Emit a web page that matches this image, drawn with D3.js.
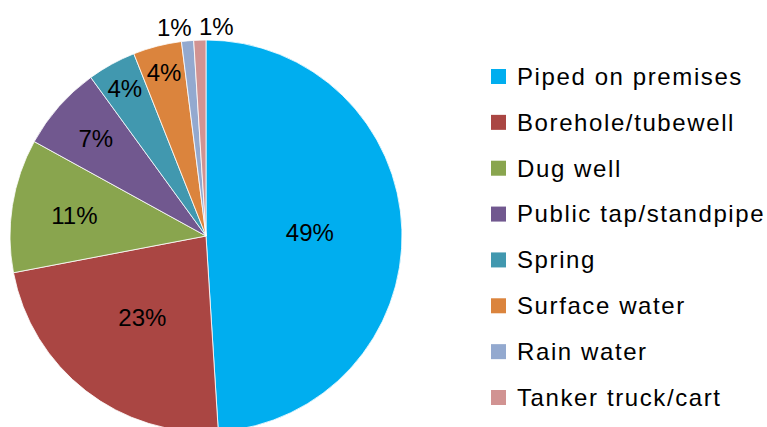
<!DOCTYPE html>
<html lang="en">
	<head>
		<meta charset="utf-8">
		<title>Water sources</title>
		<script src="https://d3js.org/d3.v7.min.js" charset="utf-8"></script>
		<style type="text/css">
			body { margin: 0; background: white; }
			.label { font-family: "Liberation Sans", Arial, sans-serif; font-size: 24px; fill: black; }
			.legend text { font-family: "Liberation Sans", Arial, sans-serif; font-size: 24px; letter-spacing: 1.6px; fill: black; }
		</style>
	</head>
	<body>
		<div id="main"></div>
		<script type="text/javascript">
			var width = 767;
			var height = 427;

			var categories = ["Piped on premises", "Borehole/tubewell", "Dug well", "Public tap/standpipe",
			                  "Spring", "Surface water", "Rain water", "Tanker truck/cart"];
			var shares = [49, 23, 11, 7, 4, 4, 1, 1];
			var colours = ["#00AEEF", "#AA4643", "#89A54E", "#71588F", "#4198AF", "#DB843D", "#93A9CF", "#D19392"];

			var data = categories.map(function(c, i) { return {name: c, value: shares[i]}; });

			var svg = d3.select("div#main")
			            .append("svg")
			            .attr("width", width)
			            .attr("height", height)

			var cx = 206, cy = 236, radius = 196;

			var color = d3.scaleOrdinal().domain(categories).range(colours);

			var pie = d3.pie().sort(null).value(d => d.value);
			var arcs = pie(data);

			var arc = d3.arc().innerRadius(0).outerRadius(radius);

			// excel "best fit": big slices near the middle, small ones pushed out, tiny ones outside
			var labelRadius = d3.scaleLinear().domain([4, 7, 11, 23]).range([0.86, 0.75, 0.68, 0.53]).clamp(true);

			var g = svg.append("g").attr("transform", "translate(" + cx + "," + cy + ")");

			g.selectAll("path")
			  .data(arcs)
			  .enter()
			  .append("path")
			  .attr("d", arc)
			  .attr("fill", d => color(d.data.name))
			  .attr("stroke", "white")
			  .attr("stroke-width", 0.8)

			var labels = arcs.map(function(d) {
				var outside = d.data.value < 2;
				var rr = outside ? radius * 1.07 : radius * labelRadius(d.data.value);
				var a = (d.startAngle + d.endAngle) / 2;
				return {text: d.data.value + "%", x: rr * Math.sin(a), y: -rr * Math.cos(a), outside: outside};
			});

			// spread the outside labels so they don't overlap
			var outs = labels.filter(d => d.outside).sort((a, b) => a.x - b.x);
			if (outs.length > 1) {
				var minGap = 42;
				var mean = d3.mean(outs, d => d.x) + 2.5;
				outs.forEach(function(d, i) { d.x = mean + (i - (outs.length - 1) / 2) * minGap; });
			}

			g.selectAll("text.label")
			  .data(labels)
			  .enter()
			  .append("text")
			  .attr("class", "label")
			  .attr("x", d => d.x)
			  .attr("y", d => d.y)
			  .attr("dy", "0.35em")
			  .attr("text-anchor", "middle")
			  .text(d => d.text)

			var rows = d3.scalePoint().domain(categories).range([76.5, 397.5]);

			var legend = svg.append("g").attr("class", "legend");

			var item = legend.selectAll("g")
			  .data(categories)
			  .enter()
			  .append("g")
			  .attr("transform", d => "translate(491," + rows(d) + ")")

			item.append("rect")
			  .attr("x", 0)
			  .attr("y", -7.5)
			  .attr("width", 15)
			  .attr("height", 15)
			  .attr("fill", d => color(d))

			item.append("text")
			  .attr("x", 26)
			  .attr("dy", "0.35em")
			  .text(d => d)
		</script>
	</body>
</html>
